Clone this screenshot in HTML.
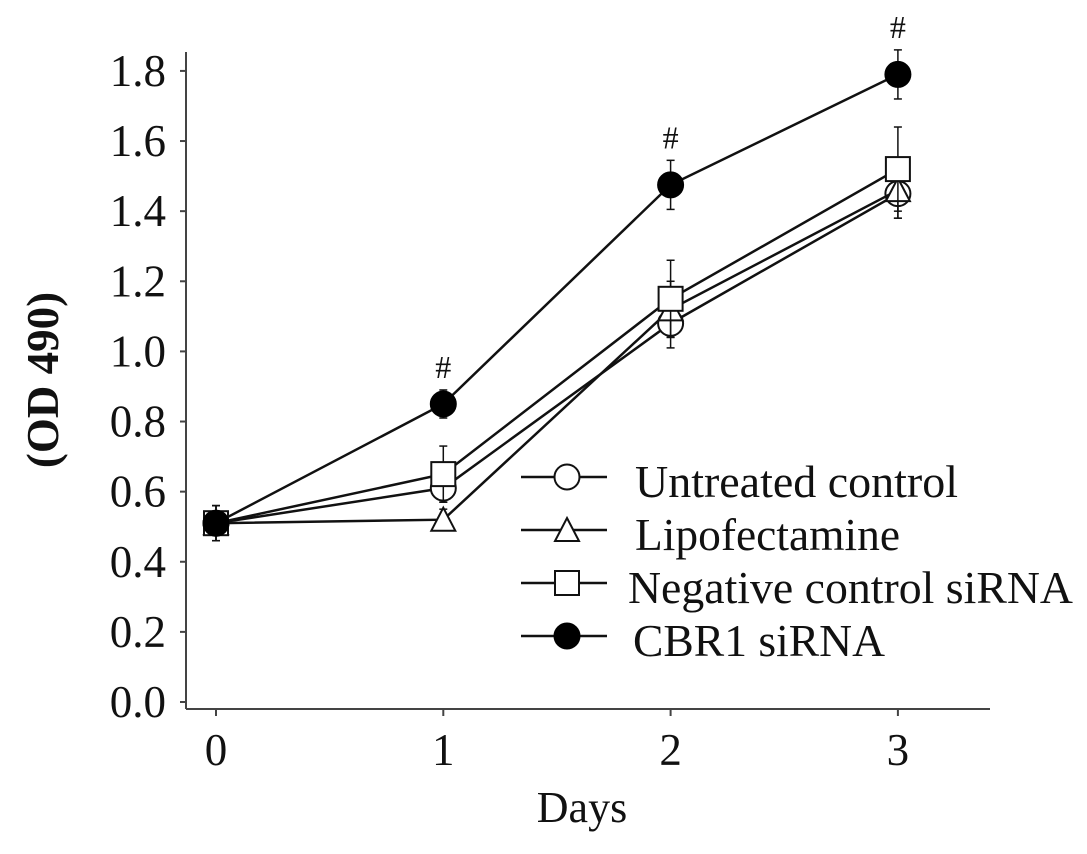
<!DOCTYPE html>
<html><head><meta charset="utf-8"><style>
body{margin:0;background:#fff}
svg text{font-family:"Liberation Serif",serif;fill:#111}
</style></head><body>
<svg width="1087" height="849" id="c"></svg>
<script>
const days=[0,1,2,3];
const untreated=[0.51,0.61,1.08,1.45];
const lipo=[0.51,0.52,1.12,1.46];
const negctrl=[0.51,0.65,1.15,1.52];
const cbr1=[0.51,0.85,1.475,1.79];
const errUntreated=[0.05,0.04,0.07,0.07];
const errLipo=[0.05,0.03,0.08,0.08];
const errNeg=[0.05,0.08,0.11,0.12];
const errCbr=[0.05,0.04,0.07,0.07];
const yTicks=[0,0.2,0.4,0.6,0.8,1.0,1.2,1.4,1.6,1.8];
const sig=[false,true,true,true];
const seriesNames=["Untreated control","Lipofectamine","Negative control siRNA","CBR1 siRNA"];

const NS="http://www.w3.org/2000/svg";
const svg=document.getElementById('c');
const X=d=>216+d*227.3;
const Y=v=>702-v*350.6;
function el(t,a,p){const e=document.createElementNS(NS,t);for(const k in a)e.setAttribute(k,a[k]);(p||svg).appendChild(e);return e;}
let ax=el('line',{x1:186,y1:52,x2:186,y2:709,stroke:'#444','stroke-width':2});


let bx=el('line',{x1:186,y1:709,x2:990,y2:709,stroke:'#444','stroke-width':2});


yTicks.forEach(v=>{
 el('line',{x1:180,y1:Y(v),x2:186,y2:Y(v),stroke:'#444','stroke-width':2});
 const t=el('text',{x:166,y:Y(v)+15,'text-anchor':'end','font-size':45});
 t.textContent=v.toFixed(1);
 
 
});
days.forEach(d=>{
 el('line',{x1:X(d),y1:709,x2:X(d),y2:716,stroke:'#444','stroke-width':2});
 const t=el('text',{x:X(d),y:765,'text-anchor':'middle','font-size':45});
 t.textContent=d;
 
 
});
let xt=el('text',{x:582,y:822,'text-anchor':'middle','font-size':44});
xt.textContent='Days';


let yt=el('text',{x:0,y:0,'text-anchor':'middle','font-size':45,'font-weight':'bold',transform:'translate(58,380) rotate(-90)'});
yt.textContent='(OD 490)';



function marker(g,type,cx,cy){
 if(type==='circle')el('circle',{cx,cy,r:12.5,fill:'#fff',stroke:'#111','stroke-width':2},g);
 if(type==='dot')el('circle',{cx,cy,r:12.5,fill:'#000',stroke:'#000','stroke-width':2},g);
 if(type==='square')el('rect',{x:cx-12,y:cy-12,width:24,height:24,fill:'#fff',stroke:'#111','stroke-width':2},g);
 if(type==='tri')el('polygon',{points:`${cx},${cy-12} ${cx+12},${cy+11} ${cx-12},${cy+11}`,fill:'#fff',stroke:'#111','stroke-width':2},g);
}
const series=[[untreated,errUntreated,'circle','series-untreated'],[lipo,errLipo,'tri','series-lipofectamine'],[negctrl,errNeg,'square','series-negative-control'],[cbr1,errCbr,'dot','series-cbr1-sirna']];
series.forEach(([vals,errs,type,name])=>{
 const g=el('g',{});
 
 
 el('polyline',{points:vals.map((v,i)=>X(days[i])+','+Y(v)).join(' '),fill:'none',stroke:'#111','stroke-width':2.5},g);
 vals.forEach((v,i)=>{
  const x=X(days[i]);
  el('line',{x1:x,y1:Y(v+errs[i]),x2:x,y2:Y(v-errs[i]),stroke:'#111','stroke-width':1.5},g);
  el('line',{x1:x-4,y1:Y(v+errs[i]),x2:x+4,y2:Y(v+errs[i]),stroke:'#111','stroke-width':1.5},g);
  el('line',{x1:x-4,y1:Y(v-errs[i]),x2:x+4,y2:Y(v-errs[i]),stroke:'#111','stroke-width':1.5},g);
 });
 vals.forEach((v,i)=>marker(g,type,X(days[i]),Y(v)));
});
cbr1.forEach((v,i)=>{if(!sig[i])return;
 const t=el('text',{x:X(days[i]),y:Y(v+errCbr[i])-12,'text-anchor':'middle','font-size':32});
 t.textContent='#';
 
 
});
const types=['circle','tri','square','dot'];
const ly=[477,530,583,636];
const lx=[635,635,628,633];
const lw=[323,265,445,252];
seriesNames.forEach((n,i)=>{
 const g=el('g',{});
 
 
 el('line',{x1:521,y1:ly[i],x2:607,y2:ly[i],stroke:'#111','stroke-width':2.5},g);
 marker(g,types[i],567,ly[i]);
 const t=el('text',{x:lx[i],y:ly[i]+20,'font-size':46,textLength:lw[i],lengthAdjust:'spacingAndGlyphs'},g);
 t.textContent=n;
});
</script>
</body></html>
